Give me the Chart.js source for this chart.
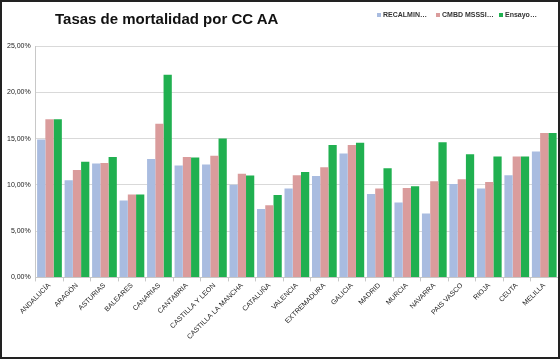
<!DOCTYPE html>
<html>
<head>
<meta charset="utf-8">
<script src="https://cdn.jsdelivr.net/npm/chart.js@4"></script>
<style>
  body { margin: 0; background: #fff; }
  #frame { position: relative; width: 560px; height: 359px; box-sizing: border-box; border: 2px solid #222; }
  #title { position: absolute; left: 53px; top: 8px; font: bold 15px "Liberation Sans", Arial, sans-serif; color: #111; }
  .leg { position: absolute; top: 9px; font: bold 7px "Liberation Sans", Arial, sans-serif; color: #333; white-space: nowrap; }
  .leg i { display: inline-block; width: 4px; height: 4px; margin-right: 2px; vertical-align: 0px; }
</style>
</head>
<body>
<div id="frame">
  <div id="title">Tasas de mortalidad por CC AA</div>
  <div id="legend"></div>
  <canvas id="chart"></canvas>
</div>
<script>
var regiones = ["ANDALUCÍA", "ARAGÓN", "ASTURIAS", "BALEARES", "CANARIAS", "CANTABRIA",
  "CASTILLA Y LEON", "CASTILLA LA MANCHA", "CATALUÑA", "VALENCIA", "EXTREMADURA", "GALICIA",
  "MADRID", "MURCIA", "NAVARRA", "PAIS VASCO", "RIOJA", "CEUTA", "MELILLA"];

// tasas en %
var recalmin = [14.9, 10.5, 12.3, 8.3, 12.8, 12.1, 12.2, 10.0, 7.4, 9.6, 10.95, 13.4, 9.0, 8.1, 6.9, 10.1, 9.6, 11.05, 13.6];
var cmbd     = [17.1, 11.6, 12.35, 8.95, 16.6, 13.0, 13.15, 11.2, 7.8, 11.05, 11.9, 14.3, 9.6, 9.65, 10.4, 10.6, 10.3, 13.05, 15.6];
var ensayo   = [17.1, 12.5, 13.0, 8.95, 21.9, 12.95, 15.0, 11.0, 8.9, 11.4, 14.3, 14.55, 11.8, 9.85, 14.6, 13.3, 13.05, 13.05, 15.6];

var etiquetasSerie = ["RECALMIN…", "CMBD MSSSI…", "Ensayo…"];
var colores = ["#A9BCE0", "#DA9C9C", "#20B050"];

// leyenda en html, arriba a la derecha
var posLeyenda = [375, 434, 497];
var leg = document.getElementById("legend");
etiquetasSerie.forEach(function (t, i) {
  var s = document.createElement("span");
  s.className = "leg";
  s.style.left = posLeyenda[i] + "px";
  s.innerHTML = '<i style="background:' + colores[i] + '"></i>' + t;
  leg.appendChild(s);
});

var ctx = document.getElementById("chart").getContext("2d");
var chart = new Chart(ctx, {
  type: 'bar',
  data: {
    labels: regiones,
    datasets: [
      { label: etiquetasSerie[0], data: recalmin, backgroundColor: colores[0] },
      { label: etiquetasSerie[1], data: cmbd, backgroundColor: colores[1] },
      { label: etiquetasSerie[2], data: ensayo, backgroundColor: colores[2] }
    ]
  },
  options: {
    responsive: true,
    maintainAspectRatio: false,
    animation: false,
    layout: { padding: { left: 0, right: 0, top: 44, bottom: 16 } },
    datasets: { bar: { categoryPercentage: 0.9, barPercentage: 1.0 } },
    plugins: {
      tooltip: { enabled: false },
      legend: { display: false }
    },
    scales: {
      x: {
        grid: { display: true, drawOnChartArea: false, tickLength: 4, color: '#c8c8c8' },
        border: { color: '#c8c8c8' },
        ticks: {
          autoSkip: false, maxRotation: 45, minRotation: 45, padding: 0,
          color: '#222',
          font: { family: "'Liberation Sans', Arial, sans-serif", size: 7 }
        }
      },
      y: {
        min: 0, max: 25,
        grid: { color: '#d9d9d9', drawTicks: false },
        border: { color: '#c8c8c8' },
        ticks: {
          stepSize: 5, padding: 5,
          color: '#222',
          font: { family: "'Liberation Sans', Arial, sans-serif", size: 7 },
          callback: function (v) { return v.toFixed(2).replace('.', ',') + '%'; }
        }
      }
    }
  }
});
</script>
</body>
</html>
